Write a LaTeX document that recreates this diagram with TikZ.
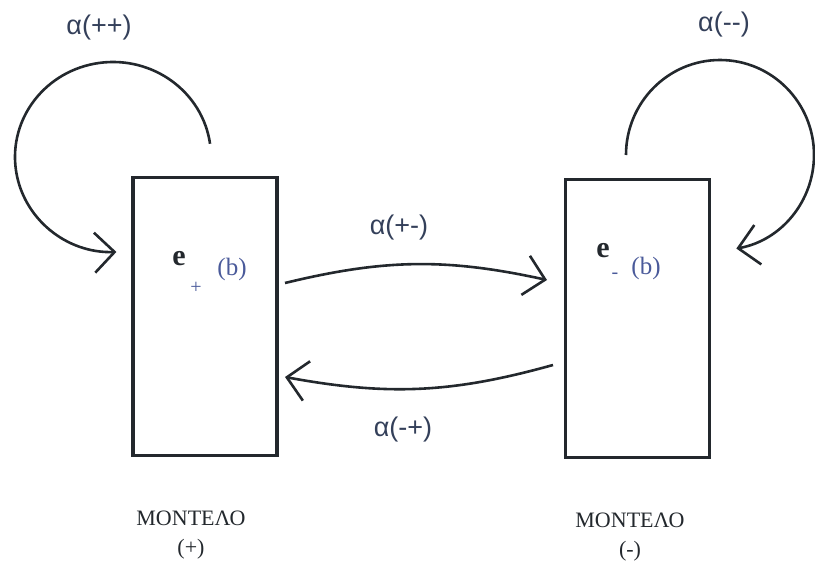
\documentclass[tikz,border=0pt]{standalone}
\usepackage{fontspec}
\setmainfont{Liberation Serif}
\newfontfamily\labelfont{Liberation Sans}
\usetikzlibrary{arrows.meta,calc}
\definecolor{inkline}{HTML}{23282D}
\definecolor{inklabel}{HTML}{34405A}
\definecolor{inkblue}{HTML}{4A5A9A}
\tikzset{
  modelbox/.style={draw=inkline, line width=3.6pt, minimum width=144pt, minimum height=278pt, inner sep=0pt},
  flow/.style={draw=inkline, line width=2.6pt,
    -{Straight Barb[length=20pt, width=40pt, line width=2.6pt]}},
  ratelabel/.style={text=inklabel, font=\labelfont\fontsize{27}{31}\selectfont, inner sep=0pt},
  statelabel/.style={text=inkline, font=\bfseries\fontsize{30}{34}\selectfont, inner sep=0pt},
  subsign/.style={text=inkblue, font=\fontsize{20}{22}\selectfont, inner sep=0pt},
  argument/.style={text=inkblue, font=\fontsize{25}{28}\selectfont, inner sep=0pt},
  modelname/.style={text=inkline, font=\fontsize{22}{29}\selectfont, align=center, inner sep=0pt}
}
\begin{document}
\begin{tikzpicture}[x=1pt, y=1pt]
  \useasboundingbox (0,0) rectangle (815,-562);

  % the two model boxes
  \node[modelbox] (plus)  at (205,-316.5) {};
  \node[modelbox] (minus) at (637.5,-318.5) {};

  % contents of the boxes
  \node[statelabel] (eplus) at (179,-259) {e};
  \node[subsign]    (splus) at (196,-288) {+};
  \node[argument]   (bplus) at (232,-269) {(b)};
  \node[statelabel] (eminus) at (603,-251) {e};
  \node[subsign]    (sminus) at (615,-276) {-};
  \node[argument]   (bminus) at (646,-268) {(b)};

  % model names
  \node[modelname] (nameplus)  at (191,-535) {ΜΟΝΤΕΛΟ\\(+)};
  \node[modelname] (nameminus) at (630,-537) {ΜΟΝΤΕΛΟ\\(-)};

  % end points of the connectors
  \coordinate (pp0) at ($(113,-157)+(8:98 and 95)$);
  \coordinate (mm0) at (626,-155);
  \coordinate (pm0) at (285,-283);
  \coordinate (pm1) at (547,-280);
  \coordinate (mp0) at (553,-365);
  \coordinate (mp1) at (285,-377);

  % self transitions
  \draw[flow] (pp0) arc[start angle=8, end angle=272, x radius=98, y radius=95];
  \draw[flow] (mm0) arc[start angle=180, end angle=-80, x radius=94, y radius=95];

  % transitions between the models
  \draw[flow] (pm0) to[bend left=13] (pm1);
  \draw[flow] (mp0) to[bend left=13] (mp1);

  % rates
  \node[ratelabel] (rpp) at (99,-28)   {α(++)};
  \node[ratelabel] (rmm) at (724,-25)  {α(--)};
  \node[ratelabel] (rpm) at (399,-228) {α(+-)};
  \node[ratelabel] (rmp) at (403,-430) {α(-+)};
\end{tikzpicture}
\end{document}
